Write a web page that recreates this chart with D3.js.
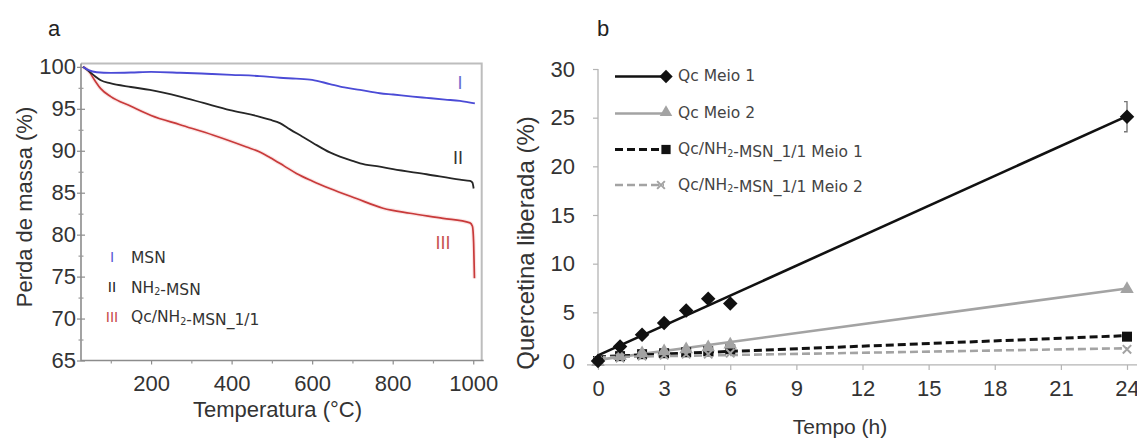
<!DOCTYPE html>
<html>
<head>
<meta charset="utf-8">
<script src="https://cdn.jsdelivr.net/npm/d3@7"></script>
<style>
  html, body { margin: 0; padding: 0; background: #fff; }
  svg text { font-family: "Liberation Sans", Arial, Helvetica, sans-serif; }
  svg text.leg { font-family: "DejaVu Sans", Verdana, sans-serif; }
</style>
</head>
<body>
<svg id="fig" width="1137" height="439"></svg>
<script>
// ---------- Panel a: thermogravimetric curves ----------
const msnTemp = [31, 45, 65, 100, 150, 200, 272, 350, 400, 470, 520, 560, 600, 644, 680, 719, 768, 801, 850, 884, 930, 967, 1004];
const msnMass = [100, 99.6, 99.35, 99.28, 99.32, 99.4, 99.3, 99.15, 99.05, 98.9, 98.7, 98.6, 98.45, 97.95, 97.55, 97.25, 96.86, 96.7, 96.45, 96.3, 96.1, 95.95, 95.65];

const nh2Temp = [31, 45, 60, 75, 98, 150, 197, 272, 330, 396, 470, 495, 520, 545, 575, 603, 644, 669, 700, 719, 768, 801, 884, 967, 992, 998, 1001];
const nh2Mass = [100, 99.5, 98.9, 98.4, 98.05, 97.6, 97.25, 96.45, 95.7, 94.85, 94.05, 93.7, 93.3, 92.55, 91.7, 90.9, 89.8, 89.3, 88.8, 88.5, 88.1, 87.8, 87.2, 86.55, 86.4, 86.2, 85.5];

const qcTemp = [31, 45, 60, 75, 100, 150, 200, 272, 355, 437, 470, 495, 530, 561, 600, 644, 710, 776, 843, 925, 992, 998, 1001, 1003];
const qcMass = [100, 99.5, 98.4, 97.4, 96.45, 95.3, 94.2, 93.1, 91.85, 90.45, 89.85, 89.2, 88.2, 87.3, 86.4, 85.5, 84.3, 83.15, 82.55, 81.95, 81.4, 81.0, 79.0, 74.8];

const tempTicks = [200, 400, 600, 800, 1000];
const tempMinor = [100, 300, 500, 700, 900];
const massTicks = [65, 70, 75, 80, 85, 90, 95, 100];
const massMinor = [67.5, 72.5, 77.5, 82.5, 87.5, 92.5, 97.5];

// ---------- Panel b: quercetin release ----------
const hours    = [0, 1, 2, 3, 4, 5, 6, 24];
const qcMeio1  = [0, 1.5, 2.7, 3.9, 5.2, 6.4, 5.9, 25.1];
const qcMeio1Err = [0, 0, 0, 0, 0, 0, 0, 1.55];
const qcMeio2  = [0, 0.6, 0.9, 1.1, 1.3, 1.5, 1.8, 7.5];
const nh2Meio1 = [0, 0.5, 0.7, 0.8, 0.9, 1.0, 1.2, 2.5];
const nh2Meio2 = [0, 0.3, 0.5, 0.6, 0.7, 0.7, 0.8, 1.2];

const hourTicks = [0, 3, 6, 9, 12, 15, 18, 21, 24];
const releaseTicks = [0, 5, 10, 15, 20, 25, 30];

const svg = d3.select("#fig");
const intFmt = d3.format("d");

// ===== Panel a =====
const xA = d3.scaleLinear().domain([26, 1021]).range([81, 481.7]);
const yA = d3.scaleLinear().domain([65, 100.4]).range([360.5, 63.5]);

const gA = svg.append("g");

function styleAxis(g, color, size) {
  g.select(".domain").remove();
  g.selectAll("line").attr("stroke", color).attr("stroke-width", 1.2);
  g.selectAll("text").attr("font-size", size).attr("fill", "#333");
}

// frame: light top/right, darker left/bottom
const [frameL, frameR] = xA.range();
const [frameB, frameT] = yA.range();
gA.append("path").attr("d", `M${frameL},${frameT}H${frameR}V${frameB}`)
  .attr("fill", "none").attr("stroke", "#bdbdbd").attr("stroke-width", 2);
gA.append("path").attr("d", `M${frameL},${frameT}V${frameB}H${frameR + 2}`)
  .attr("fill", "none").attr("stroke", "#8c8c8c").attr("stroke-width", 1.6);

// left axis (ticks cross the axis line)
gA.append("g").attr("transform", `translate(${frameL},0)`)
  .call(d3.axisLeft(yA).tickValues(massTicks).tickFormat(intFmt).tickSize(4).tickPadding(1))
  .call(g => styleAxis(g, "#8c8c8c", 22));
gA.append("g").attr("transform", `translate(${frameL},0)`)
  .call(d3.axisLeft(yA).tickValues(massTicks).tickSize(-4).tickFormat(""))
  .call(g => styleAxis(g, "#8c8c8c", 22));
gA.append("g").attr("transform", `translate(${frameL},0)`)
  .call(d3.axisLeft(yA).tickValues(massMinor).tickSize(2.5).tickFormat(""))
  .call(g => styleAxis(g, "#9a9a9a", 22));
gA.append("g").attr("transform", `translate(${frameL},0)`)
  .call(d3.axisLeft(yA).tickValues(massMinor).tickSize(-2.5).tickFormat(""))
  .call(g => styleAxis(g, "#9a9a9a", 22));

// bottom axis
gA.append("g").attr("transform", `translate(0,${frameB})`)
  .call(d3.axisBottom(xA).tickValues(tempTicks).tickFormat(intFmt).tickSize(4).tickPadding(11))
  .call(g => styleAxis(g, "#8c8c8c", 22));
gA.append("g").attr("transform", `translate(0,${frameB})`)
  .call(d3.axisBottom(xA).tickValues(tempMinor).tickSize(3).tickFormat(""))
  .call(g => styleAxis(g, "#9a9a9a", 22));

// curves
const lineA = d3.line().curve(d3.curveMonotoneX).x(d => xA(d[0])).y(d => yA(d[1]));
const zipA = (t, m) => t.map((v, i) => [v, m[i]]);

gA.append("path").datum(zipA(qcTemp, qcMass)).attr("d", lineA)
  .attr("fill", "none").attr("stroke", "rgba(235,140,140,0.22)").attr("stroke-width", 4);
gA.append("path").datum(zipA(qcTemp, qcMass)).attr("d", lineA)
  .attr("fill", "none").attr("stroke", "#c83a3a").attr("stroke-width", 1.7);
gA.append("path").datum(zipA(nh2Temp, nh2Mass)).attr("d", lineA)
  .attr("fill", "none").attr("stroke", "#262626").attr("stroke-width", 1.8);
gA.append("path").datum(zipA(msnTemp, msnMass)).attr("d", lineA)
  .attr("fill", "none").attr("stroke", "#4b4bd6").attr("stroke-width", 1.9);

// curve numerals
gA.append("text").attr("x", 460).attr("y", 83).attr("dy", "0.35em")
  .attr("text-anchor", "middle").attr("font-size", 18).attr("fill", "#6a6ad0").text("I");
gA.append("text").attr("x", 458).attr("y", 158).attr("dy", "0.35em")
  .attr("text-anchor", "middle").attr("font-size", 18).attr("fill", "#333").text("II");
gA.append("text").attr("x", 443).attr("y", 243).attr("dy", "0.35em")
  .attr("text-anchor", "middle").attr("font-size", 18).attr("fill", "#c85050").text("III");

// legend
function richText(sel, parts) {
  parts.forEach(p => {
    if (p.sub) {
      sel.append("tspan").attr("dy", "0.3em").attr("font-size", "0.62em").text(p.t);
      sel.append("tspan").attr("dy", "-0.19em").text("");
    } else {
      sel.append("tspan").text(p.t);
    }
  });
}
const legendA = [
  { mark: "I",   color: "#5a5ad6", parts: [{ t: "MSN" }], y: 257 },
  { mark: "II",  color: "#222",    parts: [{ t: "NH" }, { t: "2", sub: true }, { t: "-MSN" }], y: 287 },
  { mark: "III", color: "#c84a4a", parts: [{ t: "Qc/NH" }, { t: "2", sub: true }, { t: "-MSN_1/1" }], y: 316.5 }
];
legendA.forEach(d => {
  gA.append("text").attr("x", 112).attr("y", d.y).attr("dy", "0.36em")
    .attr("text-anchor", "middle").attr("font-size", 15).attr("fill", d.color).text(d.mark);
  const t = gA.append("text").attr("class", "leg").attr("x", 131).attr("y", d.y).attr("dy", "0.36em")
    .attr("font-size", 15.5).attr("fill", "#333");
  richText(t, d.parts);
});

// titles
gA.append("text").attr("x", 54).attr("y", 28).attr("dy", "0.35em")
  .attr("text-anchor", "middle").attr("font-size", 22).attr("fill", "#222").text("a");
gA.append("text").attr("x", 277.5).attr("y", 409).attr("dy", "0.35em")
  .attr("text-anchor", "middle").attr("font-size", 22).attr("fill", "#333").text("Temperatura (°C)");
gA.append("text").attr("transform", "translate(24,207) rotate(-90)").attr("dy", "0.35em")
  .attr("text-anchor", "middle").attr("font-size", 22).attr("fill", "#333").text("Perda de massa (%)");

// ===== Panel b =====
const xB = d3.scaleLinear().domain([0, 24]).range([598, 1127]);
const yB = d3.scaleLinear().domain([0, 30]).range([361, 69]);
const gB = svg.append("g");
const axisBase = -0.4;

// axis lines
gB.append("line").attr("x1", xB(0)).attr("x2", xB(0)).attr("y1", yB(30)).attr("y2", yB(axisBase))
  .attr("stroke", "#b4b4b4").attr("stroke-width", 1.3);
gB.append("line").attr("x1", xB(-0.5)).attr("x2", xB(24.6)).attr("y1", yB(axisBase)).attr("y2", yB(axisBase))
  .attr("stroke", "#b4b4b4").attr("stroke-width", 1.3);

gB.append("g").attr("transform", `translate(${xB(0)},0)`)
  .call(d3.axisLeft(yB).tickValues(releaseTicks).tickFormat(intFmt).tickSize(5).tickPadding(18))
  .call(g => styleAxis(g, "#b4b4b4", 22));
gB.append("g").attr("transform", `translate(0,${yB(axisBase)})`)
  .call(d3.axisBottom(xB).tickValues(hourTicks).tickFormat(intFmt).tickSize(5).tickPadding(10))
  .call(g => styleAxis(g, "#b4b4b4", 22));

// least-squares trend line through a series
function trend(xs, ys) {
  const mx = d3.mean(xs), my = d3.mean(ys);
  const sxy = d3.sum(xs, (x, i) => (x - mx) * (ys[i] - my));
  const sxx = d3.sum(xs, x => (x - mx) * (x - mx));
  const b = sxy / sxx, a = my - b * mx;
  const x0 = d3.min(xs), x1 = d3.max(xs);
  return [[x0, a + b * x0], [x1, a + b * x1]];
}
const lineB = d3.line().x(d => xB(d[0])).y(d => yB(d[1]));

const xMark = {
  draw(ctx, size) {
    const r = Math.sqrt(size) / 2;
    ctx.moveTo(-r, -r); ctx.lineTo(r, r);
    ctx.moveTo(r, -r); ctx.lineTo(-r, r);
  }
};

const seriesB = [
  { name: [{ t: "Qc Meio 1" }], vals: qcMeio1, color: "#111", dash: null, width: 2.6, sym: "diamond" },
  { name: [{ t: "Qc Meio 2" }], vals: qcMeio2, color: "#a3a3a3", dash: null, width: 2.6, sym: "triangle" },
  { name: [{ t: "Qc/NH" }, { t: "2", sub: true }, { t: "-MSN_1/1 Meio 1" }], vals: nh2Meio1, color: "#111", dash: "8,4", width: 3, sym: "square" },
  { name: [{ t: "Qc/NH" }, { t: "2", sub: true }, { t: "-MSN_1/1 Meio 2" }], vals: nh2Meio2, color: "#a3a3a3", dash: "8,4", width: 2.6, sym: "x" }
];

function drawSymbol(sel, sym, color, x, y, scale) {
  const k = scale || 1;
  if (sym === "diamond") {
    sel.append("path").attr("d", d3.symbol(d3.symbolSquare, 105 * k)())
      .attr("transform", `translate(${x},${y}) rotate(45)`).attr("fill", color);
  } else if (sym === "triangle") {
    sel.append("path").attr("d", d3.symbol(d3.symbolTriangle, 80 * k)())
      .attr("transform", `translate(${x},${y + 1})`).attr("fill", color);
  } else if (sym === "square") {
    sel.append("path").attr("d", d3.symbol(d3.symbolSquare, 100 * k)())
      .attr("transform", `translate(${x},${y})`).attr("fill", color);
  } else {
    sel.append("path").attr("d", d3.symbol(xMark, 70 * k)())
      .attr("transform", `translate(${x},${y})`).attr("fill", "none")
      .attr("stroke", color).attr("stroke-width", 2);
  }
}

// trend lines
seriesB.forEach(s => {
  gB.append("path").datum(trend(hours, s.vals)).attr("d", lineB)
    .attr("fill", "none").attr("stroke", s.color).attr("stroke-width", s.width)
    .attr("stroke-dasharray", s.dash);
});

// error bars
hours.forEach((h, i) => {
  const e = qcMeio1Err[i];
  if (!e) return;
  const x = xB(h), yt = yB(qcMeio1[i] + e), yb = yB(qcMeio1[i] - e);
  gB.append("path").attr("d", `M${x - 3},${yt}H${x}V${yb}H${x - 3}`)
    .attr("fill", "none").attr("stroke", "#777").attr("stroke-width", 1.4);
});

// markers, light series drawn under the dark ones
[2, 1, 3, 0].forEach(si => {
  const s = seriesB[si];
  hours.forEach((h, i) => drawSymbol(gB, s.sym, s.color, xB(h), yB(s.vals[i])));
});

// legend
const legRowsY = [76.5, 113.5, 149.5, 185];
seriesB.forEach((s, i) => {
  const y = legRowsY[i];
  gB.append("line").attr("x1", 615).attr("x2", 664).attr("y1", y).attr("y2", y)
    .attr("stroke", s.color).attr("stroke-width", s.width).attr("stroke-dasharray", s.dash);
  drawSymbol(gB, s.sym, s.color, s.sym === "x" ? 661 : 666, s.sym === "triangle" ? y - 2 : y, 0.85);
  const t = gB.append("text").attr("class", "leg").attr("x", 678).attr("y", y - 1).attr("dy", "0.36em")
    .attr("font-size", 15.5).attr("fill", "#444");
  richText(t, s.name);
});

gB.append("text").attr("x", 603).attr("y", 28).attr("dy", "0.35em")
  .attr("text-anchor", "middle").attr("font-size", 22).attr("fill", "#222").text("b");
gB.append("text").attr("x", 840).attr("y", 427).attr("dy", "0.35em")
  .attr("text-anchor", "middle").attr("font-size", 21).attr("fill", "#333").text("Tempo (h)");
gB.append("text").attr("transform", "translate(526,243) rotate(-90)").attr("dy", "0.35em")
  .attr("text-anchor", "middle").attr("font-size", 24).attr("fill", "#333").text("Quercetina liberada (%)");
</script>
</body>
</html>
